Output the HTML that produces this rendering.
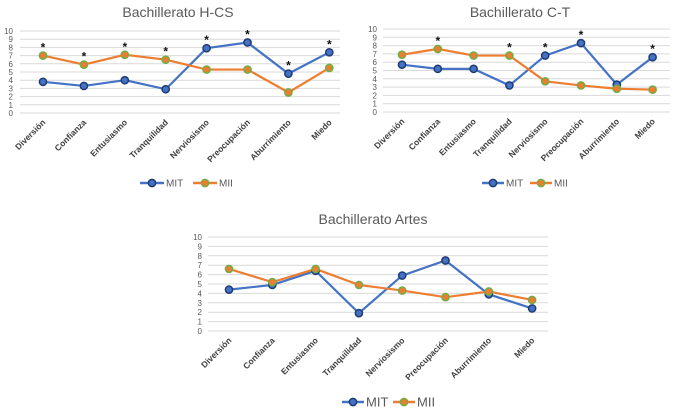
<!DOCTYPE html>
<html><head><meta charset="utf-8">
<style>
html,body{margin:0;padding:0;background:#fff;}
svg{display:block;font-family:"Liberation Sans",sans-serif;}
</style></head>
<body>
<svg id="s" width="678" height="412" viewBox="0 0 678 412"></svg>
<script>
const categories=["Diversión","Confianza","Entusiasmo","Tranquilidad","Nerviosismo","Preocupación","Aburrimiento","Miedo"];
const yTicks=[0,1,2,3,4,5,6,7,8,9,10];
const hcsMIT=[3.8,3.3,4.0,2.9,7.9,8.6,4.8,7.4];
const hcsMII=[7.0,5.9,7.1,6.5,5.3,5.3,2.5,5.5];
const hcsStars=[1,1,1,1,1,1,1,1];
const ctMIT=[5.7,5.2,5.2,3.2,6.8,8.3,3.3,6.6];
const ctMII=[6.9,7.6,6.8,6.8,3.7,3.2,2.8,2.7];
const ctStars=[0,1,0,1,1,1,0,1];
const artMIT=[4.4,4.9,6.4,1.9,5.9,7.5,3.9,2.4];
const artMII=[6.6,5.2,6.6,4.9,4.3,3.6,4.2,3.3];
const artStars=[0,0,0,0,0,0,0,0];

const NS="http://www.w3.org/2000/svg";
const svg=document.getElementById('s');
function mk(tag,attrs,parent,text){const e=document.createElementNS(NS,tag);for(const k in attrs)e.setAttribute(k,attrs[k]);if(text!==undefined)e.textContent=text;(parent||svg).appendChild(e);return e;}

function chart(cfg){
  const g=mk('g',{});
  
  
  const y=v=>cfg.y0+(cfg.y10-cfg.y0)*v/10;
  const x=i=>cfg.x0+i*cfg.dx;
  const t=mk('text',{x:cfg.tx,y:cfg.ty,'text-anchor':'middle','font-size':14,fill:'#595959'},g,cfg.title);
  
  
  yTicks.forEach(v=>{
    const l=mk('line',{x1:cfg.gx0,x2:cfg.gx1,y1:y(v),y2:y(v),stroke:'#d9d9d9','stroke-width':1},g);
    
    
    const tl=mk('text',{x:cfg.lx,y:y(v)+3,'text-anchor':'end','font-size':8,fill:'#595959'},g,v);
    
    
  });
  categories.forEach((c,i)=>{
    const cx=x(i)+3, cy=y(0)+10;
    const tl=mk('text',{x:cx,y:cy,'text-anchor':'end','font-size':cfg.fs,fill:'#404040','font-weight':'bold',transform:`rotate(-45 ${cx} ${cy})`},g,c);
    
    
  });
  [[cfg.mit,'#4472c4','#1f3b75','mit'],[cfg.mii,'#ed7d31','#70ad47','mii']].forEach(([d,col,mc,n])=>{
    const p=mk('polyline',{points:d.map((v,i)=>x(i)+','+y(v)).join(' '),fill:'none',stroke:col,'stroke-width':2.2},g);
    
    
  });
  [[cfg.mit,'#4472c4','#1f3b75','mit'],[cfg.mii,'#ed7d31','#70ad47','mii']].forEach(([d,col,mc,n])=>{
    d.forEach((v,i)=>{
      const c=mk('circle',{cx:x(i),cy:y(v),r:3.6,fill:col,stroke:mc,'stroke-width':1.5},g);
      
      
    });
  });
  cfg.stars.forEach((s,i)=>{
    if(!s)return;
    const m=Math.max(cfg.mit[i],cfg.mii[i]);
    const st=mk('text',{x:x(i),y:y(m)-4,'text-anchor':'middle','font-size':12,'font-weight':'bold',fill:'#111'},g,'*');
    
    
  });
  const L=cfg.leg;
  [['MIT','#4472c4','#1f3b75',L.x],['MII','#ed7d31','#70ad47',L.x2]].forEach(([n,col,mc,lx])=>{
    const lg=mk('g',{},g);
    
    
    mk('line',{x1:lx,x2:lx+L.w,y1:L.y,y2:L.y,stroke:col,'stroke-width':2.5},lg);
    mk('circle',{cx:lx+L.w/2,cy:L.y,r:3.6,fill:col,stroke:mc,'stroke-width':1.5},lg);
    mk('text',{x:lx+L.w+2,y:L.y+L.fs*0.36,'font-size':L.fs,fill:'#595959'},lg,n);
  });
}
chart({name:'chart-hcs',title:'Bachillerato H-CS',tx:178,ty:17,y0:113,y10:31,x0:43,dx:40.9,gx0:20,gx1:340,lx:13,fs:8.5,mit:hcsMIT,mii:hcsMII,stars:hcsStars,leg:{x:140,x2:193,y:183,w:24,fs:10}});
chart({name:'chart-ct',title:'Bachillerato C-T',tx:520,ty:17,y0:112,y10:29,x0:402,dx:35.8,gx0:383,gx1:670,lx:377,fs:8.5,mit:ctMIT,mii:ctMII,stars:ctStars,leg:{x:482,x2:530,y:183,w:22,fs:10}});
chart({name:'chart-artes',title:'Bachillerato Artes',tx:373,ty:224,y0:331,y10:237,x0:229,dx:43.3,gx0:208,gx1:548,lx:202,fs:8.5,mit:artMIT,mii:artMII,stars:artStars,leg:{x:342,x2:393,y:402,w:22,fs:13}});
</script>
</body></html>
